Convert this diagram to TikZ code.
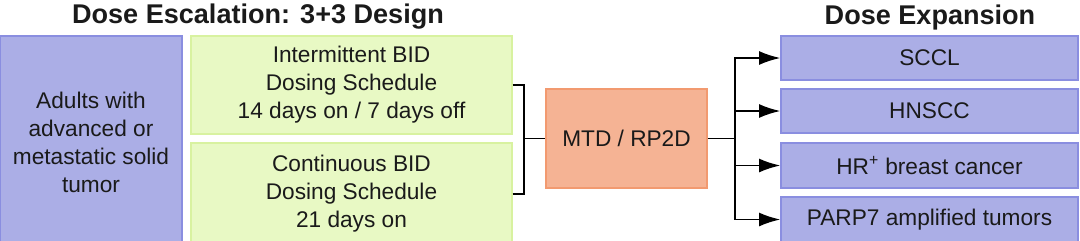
\documentclass[tikz,border=0pt]{standalone}
\usepackage{fontspec}
\setmainfont{Liberation Sans}
\usepackage{xcolor}
\usetikzlibrary{arrows.meta}

\definecolor{boxpurple}{HTML}{ABAEE6}
\definecolor{edgepurple}{HTML}{8A8EE0}
\definecolor{boxgreen}{HTML}{E8F9C4}
\definecolor{edgegreen}{HTML}{D8F2A0}
\definecolor{boxorange}{HTML}{F5B394}
\definecolor{edgeorange}{HTML}{F29A70}
\definecolor{inkdark}{HTML}{1A1A1A}

\begin{document}
\begin{tikzpicture}[
    x=0.75pt, y=-0.75pt,
    box/.style={draw, line width=1pt, inner sep=0pt, align=center, text=inkdark,
                font=\fontsize{17}{21}\selectfont},
    cohort/.style={box, fill=boxpurple, draw=edgepurple},
    sched/.style={box, fill=boxgreen, draw=edgegreen, minimum width=240.75pt},
    title/.style={font=\bfseries\fontsize{20.3}{24}\selectfont, text=inkdark},
    line/.style={line width=1.4pt, black},
    arrow/.style={line, -{Latex[length=16pt, width=10.5pt]}},
  ]
    \clip (0,0) rectangle (1080,240);
    \useasboundingbox (0,0) rectangle (1080,240);

    \node[title] (esctitle) at (258,17) {Dose Escalation: 3+3 Design};
    \node[title] (exptitle) at (930,17) {Dose Expansion};

    \node[cohort, minimum width=136.5pt, minimum height=159pt] (pts) at (91,142)
        {Adults with\\advanced or\\metastatic solid\\tumor};
    \node[sched, minimum height=73.5pt] (esc1) at (351.5,85)
        {Intermittent BID\\Dosing Schedule\\14 days on / 7 days off};
    \node[sched, minimum height=76.5pt] (esc2) at (351.5,194)
        {Continuous BID\\Dosing Schedule\\21 days on};
    \node[box, fill=boxorange, draw=edgeorange, minimum width=120.75pt, minimum height=74.25pt]
        (mtd) at (626.5,138.5) {MTD / RP2D};

    \node[cohort, minimum width=222.75pt, minimum height=33pt] (sccl)  at (929.5,58)  {SCCL};
    \node[cohort, minimum width=222.75pt, minimum height=33pt] (hnscc) at (929.5,111) {HNSCC};
    \node[cohort, minimum width=222.75pt, minimum height=33.75pt] (hrbc) at (929.5,165.5)
        {HR\textsuperscript{+} breast cancer};
    \node[cohort, minimum width=222.75pt, minimum height=33.75pt] (parp) at (929.5,219.5)
        {PARP7 amplified tumors};

    \coordinate (join) at (524,138.5);
    \coordinate (split) at (735,138.5);

    \draw[line] (esc1.east) -| (join);
    \draw[line] (esc2.east) -| (join);
    \draw[line] (join) -- (mtd.west);
    \draw[line] (mtd.east) -- (split);
    \foreach \dest in {sccl, hnscc, hrbc, parp}
      \draw[arrow] (split) |- (\dest.west);
  \end{tikzpicture}
\end{document}
